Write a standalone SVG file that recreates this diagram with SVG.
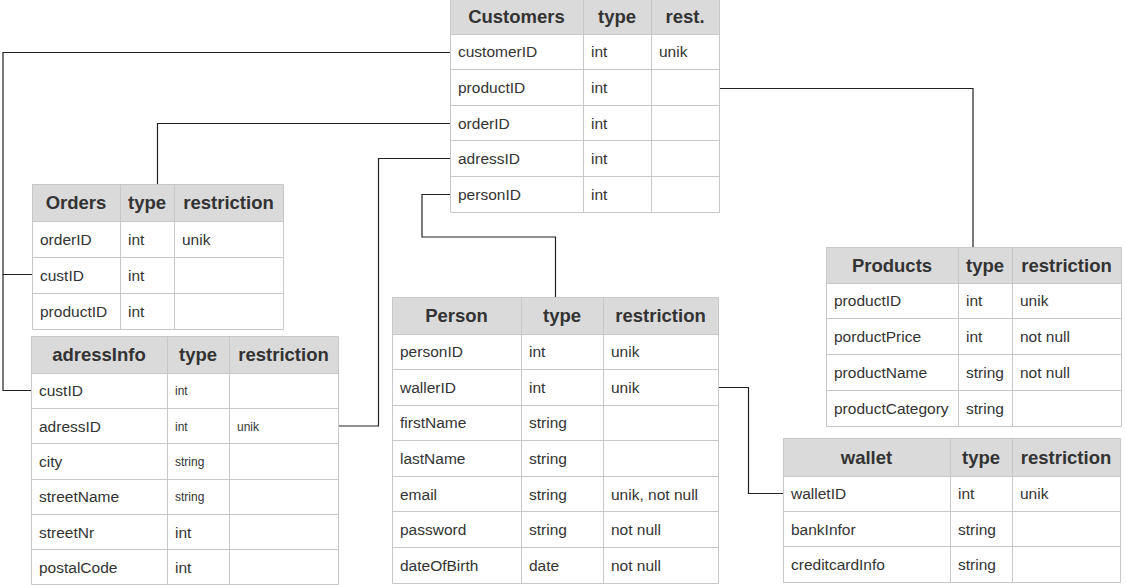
<svg xmlns="http://www.w3.org/2000/svg" width="1126" height="585" viewBox="0 0 1126 585">
  <style>
    .hd { fill: #dadada; stroke: none; }
    .bd { fill: #ffffff; stroke: none; }
    .grid { fill: none; stroke: #c8c8c8; stroke-width: 1; }
    .ht { font-family: "Liberation Sans", Arial, sans-serif; font-size: 18.5px; font-weight: bold; fill: #333333; text-anchor: middle; }
    .bt { font-family: "Liberation Sans", Arial, sans-serif; font-size: 15.5px; fill: #333333; }
    .sm { font-family: "Liberation Sans", Arial, sans-serif; font-size: 12px; fill: #333333; }
    .link { fill: none; stroke: #222222; stroke-width: 1.2; }
  </style>
  <rect width="1126" height="585" fill="#ffffff"/>

  <!-- relationship lines -->
  <g id="connectors">
    <path class="link" d="M450,52.5 H3 V274.5 H32"/>
    <path class="link" d="M3,274.5 V390.5 H31"/>
    <path class="link" d="M450,123.5 H157.5 V184"/>
    <path class="link" d="M450,158.5 H378.5 V426 H338"/>
    <path class="link" d="M450,194.5 H422 V237 H555.5 V297"/>
    <path class="link" d="M719,88.5 H973 V247"/>
    <path class="link" d="M718,387.5 H748.5 V493.5 H783"/>
  </g>

  <!-- Customers -->
  <g id="customers">
    <rect class="hd" x="450" y="0" width="269" height="34"/>
    <rect class="bd" x="450" y="34" width="269" height="178"/>
    <path class="grid" d="M450.5,0 V212.5 H719.5 V0 M450,34.5 H719 M450,69.5 H719 M450,105.5 H719 M450,140.5 H719 M450,176.5 H719 M583.5,0 V212 M651.5,0 V212"/>
    <text class="ht" x="516.5" y="23">Customers</text>
    <text class="ht" x="617" y="23">type</text>
    <text class="ht" x="685" y="23">rest.</text>
    <text class="bt" x="458" y="57.3">customerID</text>
    <text class="bt" x="591" y="57.3">int</text>
    <text class="bt" x="659" y="57.3">unik</text>
    <text class="bt" x="458" y="92.9">productID</text>
    <text class="bt" x="591" y="92.9">int</text>
    <text class="bt" x="458" y="128.5">orderID</text>
    <text class="bt" x="591" y="128.5">int</text>
    <text class="bt" x="458" y="164.1">adressID</text>
    <text class="bt" x="591" y="164.1">int</text>
    <text class="bt" x="458" y="199.7">personID</text>
    <text class="bt" x="591" y="199.7">int</text>
  </g>

  <!-- Orders -->
  <g id="orders">
    <rect class="hd" x="32" y="184" width="251" height="37"/>
    <rect class="bd" x="32" y="221" width="251" height="108"/>
    <path class="grid" d="M32.5,184.5 H283.5 V329.5 H32.5 Z M32,221.5 H283 M32,257.5 H283 M32,293.5 H283 M120.5,184 V329 M174.5,184 V329"/>
    <text class="ht" x="76" y="209">Orders</text>
    <text class="ht" x="147" y="209">type</text>
    <text class="ht" x="228.5" y="209">restriction</text>
    <text class="bt" x="40" y="244.5">orderID</text>
    <text class="bt" x="128" y="244.5">int</text>
    <text class="bt" x="182" y="244.5">unik</text>
    <text class="bt" x="40" y="280.5">custID</text>
    <text class="bt" x="128" y="280.5">int</text>
    <text class="bt" x="40" y="316.5">productID</text>
    <text class="bt" x="128" y="316.5">int</text>
  </g>

  <!-- adressInfo -->
  <g id="adressInfo">
    <rect class="hd" x="31" y="336" width="307" height="37"/>
    <rect class="bd" x="31" y="373" width="307" height="212"/>
    <path class="grid" d="M31.5,336.5 H338.5 V584.5 H31.5 Z M31,373.5 H338 M31,408.5 H338 M31,443.5 H338 M31,479.5 H338 M31,514.5 H338 M31,549.5 H338 M167.5,336 V585 M229.5,336 V585"/>
    <text class="ht" x="99" y="361">adressInfo</text>
    <text class="ht" x="198" y="361">type</text>
    <text class="ht" x="283.5" y="361">restriction</text>
    <text class="bt" x="39" y="396.2">custID</text>
    <text class="sm" x="175" y="395.2">int</text>
    <text class="bt" x="39" y="431.5">adressID</text>
    <text class="sm" x="175" y="430.5">int</text>
    <text class="sm" x="237" y="430.5">unik</text>
    <text class="bt" x="39" y="466.8">city</text>
    <text class="sm" x="175" y="465.8">string</text>
    <text class="bt" x="39" y="502.2">streetName</text>
    <text class="sm" x="175" y="501.2">string</text>
    <text class="bt" x="39" y="537.5">streetNr</text>
    <text class="bt" x="175" y="537.5">int</text>
    <text class="bt" x="39" y="572.8">postalCode</text>
    <text class="bt" x="175" y="572.8">int</text>
  </g>

  <!-- Person -->
  <g id="person">
    <rect class="hd" x="392" y="297" width="326" height="37"/>
    <rect class="bd" x="392" y="334" width="326" height="249"/>
    <path class="grid" d="M392.5,297.5 H718.5 V583.5 H392.5 Z M392,334.5 H718 M392,369.5 H718 M392,405.5 H718 M392,440.5 H718 M392,476.5 H718 M392,511.5 H718 M392,547.5 H718 M521.5,297 V583 M603.5,297 V583"/>
    <text class="ht" x="456.5" y="322">Person</text>
    <text class="ht" x="562" y="322">type</text>
    <text class="ht" x="660.5" y="322">restriction</text>
    <text class="bt" x="400" y="357.3">personID</text>
    <text class="bt" x="529" y="357.3">int</text>
    <text class="bt" x="611" y="357.3">unik</text>
    <text class="bt" x="400" y="392.9">wallerID</text>
    <text class="bt" x="529" y="392.9">int</text>
    <text class="bt" x="611" y="392.9">unik</text>
    <text class="bt" x="400" y="428.4">firstName</text>
    <text class="bt" x="529" y="428.4">string</text>
    <text class="bt" x="400" y="464">lastName</text>
    <text class="bt" x="529" y="464">string</text>
    <text class="bt" x="400" y="499.6">email</text>
    <text class="bt" x="529" y="499.6">string</text>
    <text class="bt" x="611" y="499.6">unik, not null</text>
    <text class="bt" x="400" y="535.1">password</text>
    <text class="bt" x="529" y="535.1">string</text>
    <text class="bt" x="611" y="535.1">not null</text>
    <text class="bt" x="400" y="570.7">dateOfBirth</text>
    <text class="bt" x="529" y="570.7">date</text>
    <text class="bt" x="611" y="570.7">not null</text>
  </g>

  <!-- Products -->
  <g id="products">
    <rect class="hd" x="826" y="247" width="295" height="36"/>
    <rect class="bd" x="826" y="283" width="295" height="143"/>
    <path class="grid" d="M826.5,247.5 H1121.5 V426.5 H826.5 Z M826,283.5 H1121 M826,318.5 H1121 M826,354.5 H1121 M826,390.5 H1121 M958.5,247 V426 M1012.5,247 V426"/>
    <text class="ht" x="892" y="271.5">Products</text>
    <text class="ht" x="985" y="271.5">type</text>
    <text class="ht" x="1066.5" y="271.5">restriction</text>
    <text class="bt" x="834" y="306.4">productID</text>
    <text class="bt" x="966" y="306.4">int</text>
    <text class="bt" x="1020" y="306.4">unik</text>
    <text class="bt" x="834" y="342.1">porductPrice</text>
    <text class="bt" x="966" y="342.1">int</text>
    <text class="bt" x="1020" y="342.1">not null</text>
    <text class="bt" x="834" y="377.9">productName</text>
    <text class="bt" x="966" y="377.9">string</text>
    <text class="bt" x="1020" y="377.9">not null</text>
    <text class="bt" x="834" y="413.6">productCategory</text>
    <text class="bt" x="966" y="413.6">string</text>
  </g>

  <!-- wallet -->
  <g id="wallet">
    <rect class="hd" x="783" y="438" width="337" height="38"/>
    <rect class="bd" x="783" y="476" width="337" height="106"/>
    <path class="grid" d="M783.5,438.5 H1120.5 V582.5 H783.5 Z M783,476.5 H1120 M783,511.5 H1120 M783,546.5 H1120 M950.5,438 V582 M1012.5,438 V582"/>
    <text class="ht" x="866.5" y="463.5">wallet</text>
    <text class="ht" x="981" y="463.5">type</text>
    <text class="ht" x="1066" y="463.5">restriction</text>
    <text class="bt" x="791" y="499.2">walletID</text>
    <text class="bt" x="958" y="499.2">int</text>
    <text class="bt" x="1020" y="499.2">unik</text>
    <text class="bt" x="791" y="534.5">bankInfor</text>
    <text class="bt" x="958" y="534.5">string</text>
    <text class="bt" x="791" y="569.8">creditcardInfo</text>
    <text class="bt" x="958" y="569.8">string</text>
  </g>
</svg>
